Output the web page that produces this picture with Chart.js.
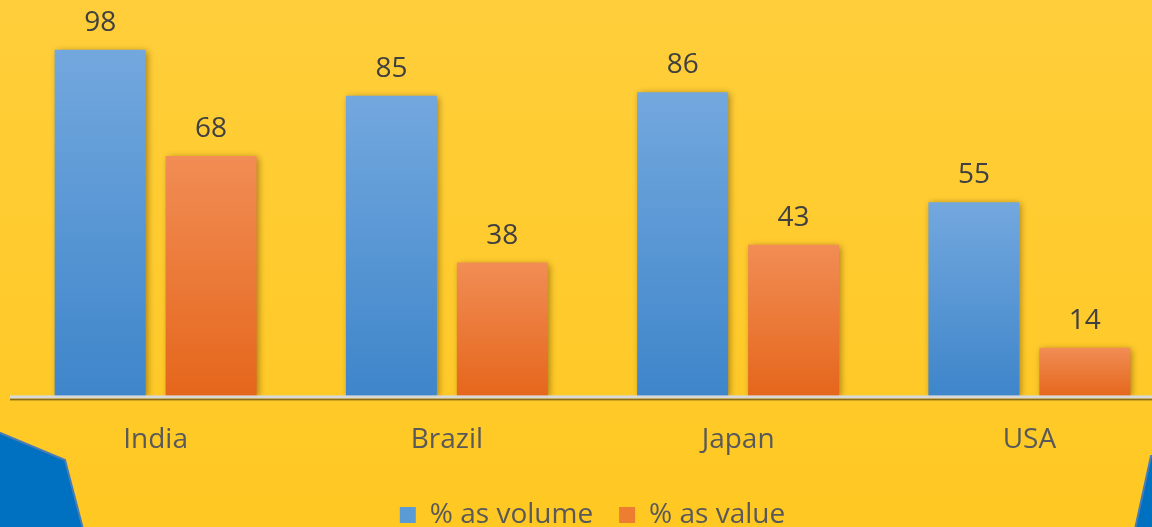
<!DOCTYPE html>
<html>
<head>
<meta charset="utf-8">
<script src="https://cdn.jsdelivr.net/npm/chart.js@4/dist/chart.umd.min.js"></script>
<style>
  html, body { margin: 0; padding: 0; overflow: hidden; background: #FFCA28; }
  #wrap { width: 1180px; height: 527px; }
</style>
</head>
<body>
<div id="wrap"><canvas id="barChart"></canvas></div>
<script>
// ====== data ======
const countries = ['India', 'Brazil', 'Japan', 'USA'];
const volumePct = [98, 85, 86, 55];
const valuePct = [68, 38, 43, 14];
const seriesNames = ['% as volume', '% as value'];

// vertical gradient for each bar, from its top down to the baseline
function barGradient(ctx, lightColor, darkColor) {
  const chart = ctx.chart;
  const y = chart.scales.y;
  if (!y || ctx.parsed === undefined) return darkColor;
  const top = y.getPixelForValue(ctx.parsed.y);
  const bottom = y.getPixelForValue(0);
  const g = chart.ctx.createLinearGradient(0, top, 0, bottom);
  g.addColorStop(0, lightColor);
  g.addColorStop(1, darkColor);
  return g;
}

// background: yellow + the blue corner shapes
const backdrop = {
  id: 'backdrop',
  beforeDraw(chart) {
    const c = chart.ctx;
    const w = chart.width, h = chart.height;
    c.save();
    const g = c.createLinearGradient(0, 0, 0, h);
    g.addColorStop(0, '#FFCE3A');
    g.addColorStop(1, '#FFC822');
    c.fillStyle = g;
    c.fillRect(0, 0, w, h);

    c.fillStyle = '#0070C0';
    c.strokeStyle = '#4A7DB5';
    c.lineWidth = 2;
    c.beginPath();
    c.moveTo(-2, 432);
    c.lineTo(65, 460);
    c.lineTo(83, h + 2);
    c.lineTo(-2, h + 2);
    c.closePath();
    c.fill();
    c.stroke();

    c.beginPath();
    c.moveTo(1151, 456);
    c.lineTo(1135, h + 2);
    c.lineTo(1200, h + 2);
    c.lineTo(1200, 456);
    c.closePath();
    c.fill();
    c.stroke();
    c.restore();
  }
};

// soft shadow behind the bars
const barShadow = {
  id: 'barShadow',
  beforeDatasetsDraw(chart) {
    const c = chart.ctx;
    c.save();
    c.shadowColor = 'rgba(90, 60, 0, 0.55)';
    c.shadowBlur = 7;
    c.shadowOffsetX = 2;
    c.shadowOffsetY = 1;
  },
  afterDatasetsDraw(chart) {
    chart.ctx.restore();
  }
};

// axis line + value labels above bars
const overlay = {
  id: 'overlay',
  afterDatasetsDraw(chart) {
    const c = chart.ctx;
    const area = chart.chartArea;
    const base = chart.scales.y.getPixelForValue(0);
    c.save();
    c.fillStyle = 'rgba(110, 85, 20, 0.8)';
    c.fillRect(area.left, base + 1, chart.width - area.left, 2);
    c.fillStyle = '#D9D9D9';
    c.fillRect(area.left, base - 2, chart.width - area.left, 3);

    c.font = '28px "Open Sans"';
    c.fillStyle = '#404040';
    c.textAlign = 'center';
    c.textBaseline = 'alphabetic';
    chart.data.datasets.forEach((ds, i) => {
      chart.getDatasetMeta(i).data.forEach((bar, j) => {
        c.fillText(ds.data[j], bar.x, bar.y - 19);
      });
    });
    c.restore();
  }
};

const ctxBar = document.getElementById('barChart').getContext('2d');
new Chart(ctxBar, {
  type: 'bar',
  data: {
    labels: countries,
    datasets: [{
      label: seriesNames[0],
      data: volumePct,
      backgroundColor: ctx => barGradient(ctx, '#73A8DE', '#3E85CA'),
      legendColor: '#5B9BD5'
    }, {
      label: seriesNames[1],
      data: valuePct,
      backgroundColor: ctx => barGradient(ctx, '#F18D55', '#E5661B'),
      legendColor: '#ED7D31'
    }]
  },
  options: {
    responsive: true,
    maintainAspectRatio: false,
    animation: false,
    categoryPercentage: 0.762,
    barPercentage: 0.82,
    layout: { padding: { left: 10, right: 5, top: 0, bottom: -12 } },
    scales: {
      x: {
        grid: { display: false },
        border: { display: false },
        ticks: {
          color: '#595959',
          font: { family: 'Open Sans', size: 28 },
          padding: 18
        }
      },
      y: { display: false, min: 0, max: 112 }
    },
    plugins: {
      tooltip: { enabled: false },
      legend: {
        position: 'bottom',
        labels: {
          color: '#595959',
          font: { family: 'Open Sans', size: 28 },
          boxWidth: 16,
          boxHeight: 16,
          padding: 26,
          generateLabels: chart => chart.data.datasets.map((ds, i) => ({
            text: ds.label,
            fillStyle: ds.legendColor,
            strokeStyle: ds.legendColor,
            lineWidth: 0,
            fontColor: '#595959',
            datasetIndex: i
          }))
        }
      }
    }
  },
  plugins: [backdrop, barShadow, overlay]
});
</script>
</body>
</html>
